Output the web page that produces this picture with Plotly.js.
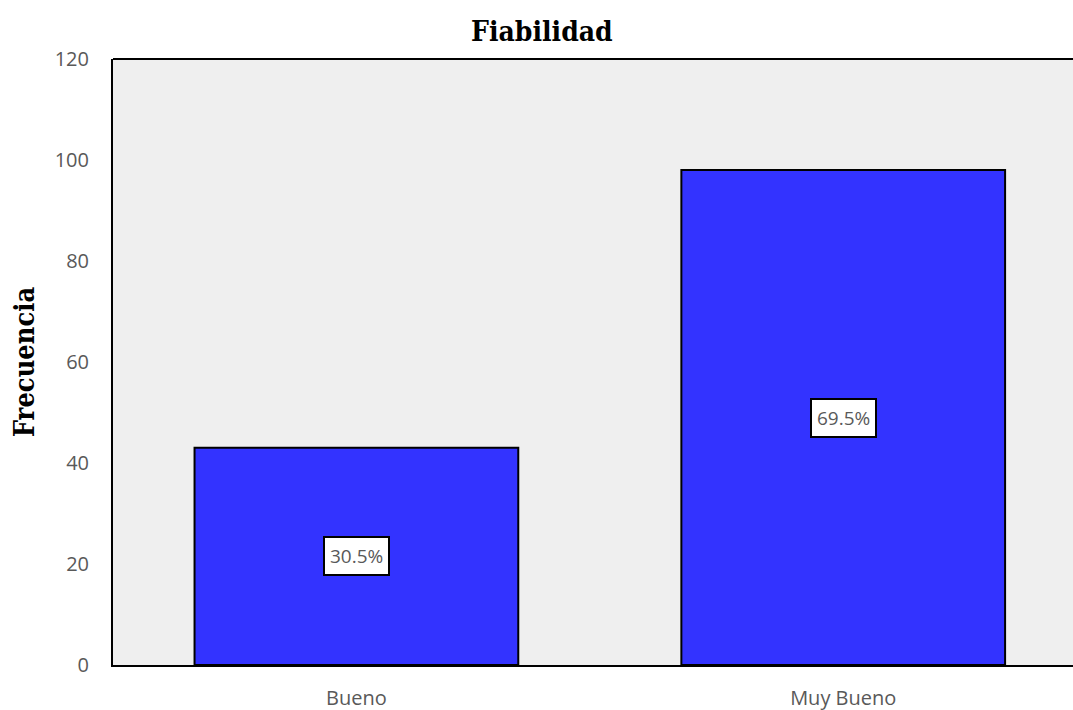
<!DOCTYPE html>
<html>
<head>
<meta charset="utf-8">
<script src="https://cdn.plot.ly/plotly-3.0.1.min.js"></script>
<style>html,body{margin:0;padding:0;background:#fff}#chart{width:1073px;height:710px}</style>
</head>
<body>
<div id="chart"></div>
<script>
var categories = ["Bueno", "Muy Bueno"];
var frequencies = [43, 98];
var percentLabels = ["30.5%", "69.5%"];
var yTicks = [0, 20, 40, 60, 80, 100, 120];

var trace = {
  type: "bar",
  x: categories,
  y: frequencies,
  width: 0.665,
  marker: {color: "#3333ff", line: {color: "#000000", width: 2}},
  hoverinfo: "skip"
};

var annotations = categories.map(function (c, i) {
  return {
    x: c, y: frequencies[i] / 2, xref: "x", yref: "y",
    text: percentLabels[i], showarrow: false,
    font: {family: "Open Sans, Liberation Sans, sans-serif", size: 19, color: "#595959"},
    bgcolor: "#ffffff", bordercolor: "#000000", borderwidth: 2, borderpad: 5
  };
});

var serif = "DejaVu Serif Condensed, DejaVu Serif, serif";

var layout = {
  width: 1073, height: 710,
  margin: {l: 113, r: 0, t: 59, b: 45},
  paper_bgcolor: "#ffffff",
  plot_bgcolor: "#efefef",
  showlegend: false,
  title: {text: "<b>Fiabilidad</b>", x: 0.505, xanchor: "center", y: 0.956, yanchor: "middle",
          font: {family: serif, size: 28, color: "#000000"}},
  xaxis: {
    type: "category", range: [-0.5, 1.472],
    showgrid: false, zeroline: false, showline: true, linecolor: "#000000", linewidth: 2,
    mirror: false, ticks: "", tickfont: {family: "Open Sans, sans-serif", size: 20, color: "#595959"},
    ticklabelstandoff: 14
  },
  yaxis: {
    range: [0, 120], tickvals: yTicks, ticktext: yTicks.map(String),
    showgrid: false, zeroline: false, showline: true, linecolor: "#000000", linewidth: 2,
    mirror: true, ticks: "", ticklabelstandoff: 18,
    tickfont: {family: "Open Sans, sans-serif", size: 20, color: "#595959"},
    title: {text: "<b>Frecuencia</b>", standoff: 12, font: {family: serif, size: 27, color: "#000000"}}
  },
  annotations: annotations,
  shapes: [{type: "line", xref: "paper", yref: "paper", x0: 0, x1: 1, y0: 1, y1: 1, line: {color: "#000", width: 2}}]
};

Plotly.newPlot("chart", [trace], layout, {displayModeBar: false, staticPlot: true});
</script>
</body>
</html>
